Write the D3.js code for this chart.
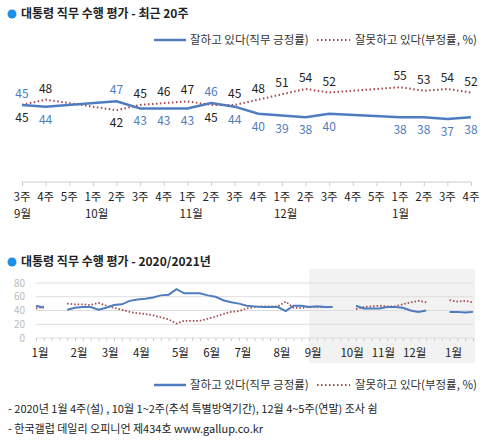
<!DOCTYPE html>
<html><head><meta charset="utf-8">
<script src="https://cdn.jsdelivr.net/npm/d3@7"></script>
<style>body{margin:0;background:#fff}svg{font-family:"Noto Sans CJK KR","Noto Sans",sans-serif}</style>
</head><body><svg id="c" width="486" height="440"></svg>
<script>
// ---- top chart data (recent 20 weeks)
const weekLabels = ["3주","4주","5주","1주","2주","3주","4주","1주","2주","3주","4주","1주","2주","3주","4주","5주","1주","2주","3주","4주"];
const monthLabels = ["9월","","","10월","","","","11월","","","","12월","","","","","1월","","",""];
const approve = [45,44,null,null,47,43,43,43,46,44,40,39,38,40,null,null,38,38,37,38];
const disapprove = [45,48,null,null,42,45,46,47,45,45,48,51,54,52,null,null,55,53,54,52];
// ---- bottom chart data (2020/2021 weekly)
const yearApprove = [47,44,null,null,41,44,45,45,41,44,48,49,54,56,57,59,62,63,71,65,65,65,62,60,55,52,50,47,46,45,45,45,39,47,47,45,46,45,45,null,null,47,43,43,43,45,45,44,40,38,40,null,null,38,38,37,38];
const yearDisapprove = [43,46,null,null,50,49,49,48,51,47,44,41,38,36,35,33,30,27,21,25,25,25,28,31,35,38,39,43,45,46,46,46,53,44,44,45,45,45,45,null,null,42,45,46,47,46,46,49,52,54,52,null,null,55,53,54,52];
const yearMonths = ["1월","2월","3월","4월","5월","6월","7월","8월","9월","10월","11월","12월","1월"];
const yearMonthIdx = [0,5,9,13,18,22,26,31,35,40,44,48,53];
const yTicks = [0,20,40,60,80];
const legendNames = ["잘하고 있다(직무 긍정률)","잘못하고 있다(부정률, %)"];

const svg = d3.select("#c");
const BLUE="#4f7cbf", RED="#a6464a";

function title(y,t){
  svg.append("circle").attr("cx",12).attr("cy",y-4).attr("r",4.5).attr("fill","#1e8fe6");
  svg.append("text").attr("x",21).attr("y",y).attr("font-size",12).attr("font-weight","bold").attr("fill","#222").text(t);
}
function legend(y){
  svg.append("line").attr("x1",154).attr("x2",186).attr("y1",y-4).attr("y2",y-4).attr("stroke",BLUE).attr("stroke-width",2.5);
  svg.append("text").attr("x",190).attr("y",y).attr("font-size",11.5).attr("fill","#333").text(legendNames[0]);
  svg.append("line").attr("x1",317).attr("x2",350).attr("y1",y-4).attr("y2",y-4).attr("stroke",RED).attr("stroke-width",2).attr("stroke-dasharray","1.5,2.5");
  svg.append("text").attr("x",355).attr("y",y).attr("font-size",11.5).attr("fill","#333").text(legendNames[1]);
}

// ---- top chart
title(18,"대통령 직무 수행 평가 - 최근 20주");
legend(44);
const x1 = d3.scaleLinear().domain([0,19]).range([22,471]);
const y1 = d3.scaleLinear().domain([38,55]).range([117.3,87.2]);
const ax = d3.axisBottom(x1).tickValues(d3.range(20)).tickSize(4).tickFormat("");
const g1 = svg.append("g").attr("transform","translate(0,182)").call(ax);
g1.selectAll("path,line").attr("stroke","#ccc");
g1.select(".domain").attr("d","M22,0H471");
weekLabels.forEach((w,i)=>{
  svg.append("text").attr("x",x1(i)).attr("y",201).attr("text-anchor","middle").attr("font-size",11.5).attr("fill","#222").text(w);
  if(monthLabels[i]) svg.append("text").attr("x",x1(i)-8).attr("y",218).attr("font-size",11.5).attr("fill","#222").text(monthLabels[i]);
});
function topLine(data,color,dash){
  const pts = data.map((v,i)=>[i,v]).filter(d=>d[1]!=null);
  svg.append("path").datum(pts).attr("fill","none").attr("stroke",color).attr("stroke-width",dash?2:2.5)
    .attr("stroke-dasharray",dash?"1.5,2.5":null).attr("d",d3.line().x(d=>x1(d[0])).y(d=>y1(d[1])));
}
topLine(disapprove,RED,true);
topLine(approve,BLUE,false);
approve.forEach((v,i)=>{
  const n = disapprove[i]; if(v==null) return;
  const above = v>=n;
  svg.append("text").attr("x",x1(i)).attr("y",above?y1(v)-7:y1(v)+17).attr("text-anchor","middle").attr("font-size",12).attr("fill",BLUE).text(v);
  svg.append("text").attr("x",x1(i)).attr("y",above?y1(n)+17:y1(n)-7).attr("text-anchor","middle").attr("font-size",12).attr("fill","#222").text(n);
});

// ---- bottom chart
title(266,"대통령 직무 수행 평가 - 2020/2021년");
const x2 = d3.scaleLinear().domain([0,56]).range([36,473]);
const y2 = d3.scaleLinear().domain([0,80]).range([338,283]);
svg.append("rect").attr("x",x2(35)).attr("y",269).attr("width",473-x2(35)+2).attr("height",94).attr("fill","#f2f2f2");
yTicks.forEach(t=>{
  svg.append("line").attr("x1",36).attr("x2",473).attr("y1",y2(t)).attr("y2",y2(t)).attr("stroke","#ddd");
  svg.append("text").attr("x",25).attr("y",y2(t)+3.5).attr("text-anchor","end").attr("font-size",10).attr("fill","#bbb").text(t);
});
const ax2 = d3.axisBottom(x2).tickValues(d3.range(57)).tickSize(3).tickFormat("");
const g2 = svg.append("g").attr("transform","translate(0,338)").call(ax2);
g2.selectAll("path,line").attr("stroke","#ccc");
g2.select(".domain").remove();
yearMonths.forEach((m,i)=>{
  svg.append("text").attr("x",x2(yearMonthIdx[i])+4).attr("y",357).attr("text-anchor","middle").attr("font-size",11.5).attr("fill","#222").text(m);
});
const ln2 = d3.line().defined(d=>d!=null).x((d,i)=>x2(i)).y(d=>y2(d));
svg.append("path").datum(yearDisapprove).attr("fill","none").attr("stroke",RED).attr("stroke-width",1.8).attr("stroke-dasharray","1.5,2").attr("d",ln2);
svg.append("path").datum(yearApprove).attr("fill","none").attr("stroke",BLUE).attr("stroke-width",2).attr("d",ln2);
legend(389);
svg.append("text").attr("x",8).attr("y",413).attr("font-size",11).attr("fill","#222").text("- 2020년 1월 4주(설) , 10월 1~2주(추석 특별방역기간), 12월 4~5주(연말) 조사 쉼");
svg.append("text").attr("x",8).attr("y",433).attr("font-size",11).attr("fill","#222").text("- 한국갤럽 데일리 오피니언 제434호 www.gallup.co.kr");
</script></body></html>
